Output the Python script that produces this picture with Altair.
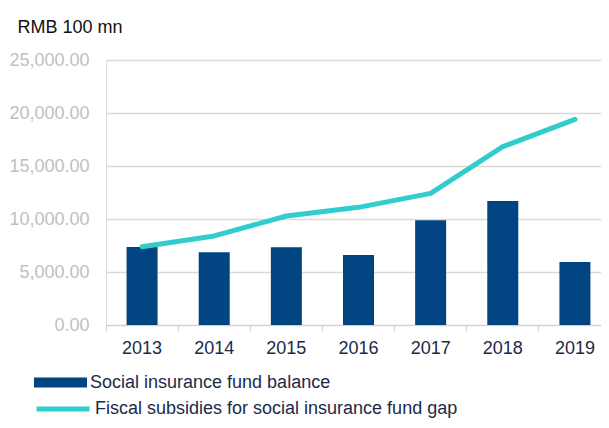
import altair as alt
import pandas as pd

years = ["2013", "2014", "2015", "2016", "2017", "2018", "2019"]
fund_balance = [7360, 6860, 7330, 6600, 9880, 11700, 5940]
fiscal_subsidies = [7390, 8400, 10280, 11100, 12420, 16820, 19400]

bar_label = "Social insurance fund balance"
line_label = "Fiscal subsidies for social insurance fund gap"

bars_df = pd.DataFrame({"year": years, "value": fund_balance, "series": bar_label})
line_df = pd.DataFrame({"year": years, "value": fiscal_subsidies, "series": line_label})

FONT = "Liberation Sans"
NAVY_TEXT = "#1C2A48"
Y_SCALE = alt.Scale(domain=[0, 25000], nice=False)
X_SCALE = alt.Scale(paddingInner=0, paddingOuter=0, range=[0, 505])

x_enc = alt.X(
    "year:N",
    sort=years,
    scale=X_SCALE,
    axis=alt.Axis(
        title=None,
        labelAngle=0,
        labelFontSize=18,
        labelFont=FONT,
        labelColor=NAVY_TEXT,
        labelPadding=8,
        tickSize=6,
        tickColor="#D0D0D0",
        domainColor="#D0D0D0",
        bandPosition=0,
        grid=False,
    ),
)

y_enc = alt.Y(
    "value:Q",
    scale=Y_SCALE,
    axis=alt.Axis(
        title="RMB 100 mn",
        titleAngle=0,
        titleX=-89,
        titleY=-28,
        titleAlign="left",
        titleBaseline="alphabetic",
        titleFont=FONT,
        titleFontSize=18,
        titleFontWeight="normal",
        titleColor="#111111",
        values=[0, 5000, 10000, 15000, 20000, 25000],
        format=",.2f",
        labelFontSize=18,
        labelFont=FONT,
        labelColor="#BFBFBF",
        labelPadding=17,
        ticks=False,
        domain=False,
        grid=True,
        gridColor="#D9D9D9",
        gridWidth=1.5,
    ),
)

bars = alt.Chart(bars_df).mark_bar(size=31).encode(
    x=x_enc,
    y=y_enc,
    color=alt.Color(
        "series:N",
        scale=alt.Scale(domain=[bar_label], range=["#004481"]),
        legend=alt.Legend(
            title=None,
            orient="none",
            legendX=-72,
            legendY=296,
            padding=0,
            symbolType="M-1,-0.19H1V0.19H-1Z",
            symbolSize=2809,
            symbolStrokeWidth=0,
            labelFont=FONT,
            labelFontSize=18,
            labelColor=NAVY_TEXT,
            labelOffset=3,
            labelLimit=600,
        ),
    ),
)

line = alt.Chart(line_df).mark_line(strokeWidth=5, strokeCap="round", strokeJoin="round").encode(
    x=alt.X("year:N", sort=years, scale=X_SCALE),
    y=alt.Y("value:Q", scale=Y_SCALE),
    stroke=alt.Stroke(
        "series:N",
        scale=alt.Scale(domain=[line_label], range=["#31CDCD"]),
        legend=alt.Legend(
            title=None,
            orient="none",
            legendX=-72,
            legendY=320,
            padding=0,
            symbolType="stroke",
            symbolSize=2809,
            symbolStrokeWidth=5,
            labelFont=FONT,
            labelFontSize=18,
            labelColor=NAVY_TEXT,
            labelOffset=3,
            labelLimit=600,
        ),
    ),
)

chart = (
    alt.layer(bars, line)
    .resolve_scale(color="independent", stroke="independent")
    .properties(
        width=495,
        height=265,
        autosize=alt.AutoSizeParams(type="none"),
        padding={"left": 98, "top": 52, "right": 0, "bottom": 95},
    )
    .configure_view(stroke=None)
    .configure(background="white")
)

chart.save("out.html", embed_options={"renderer": "svg", "actions": False})
